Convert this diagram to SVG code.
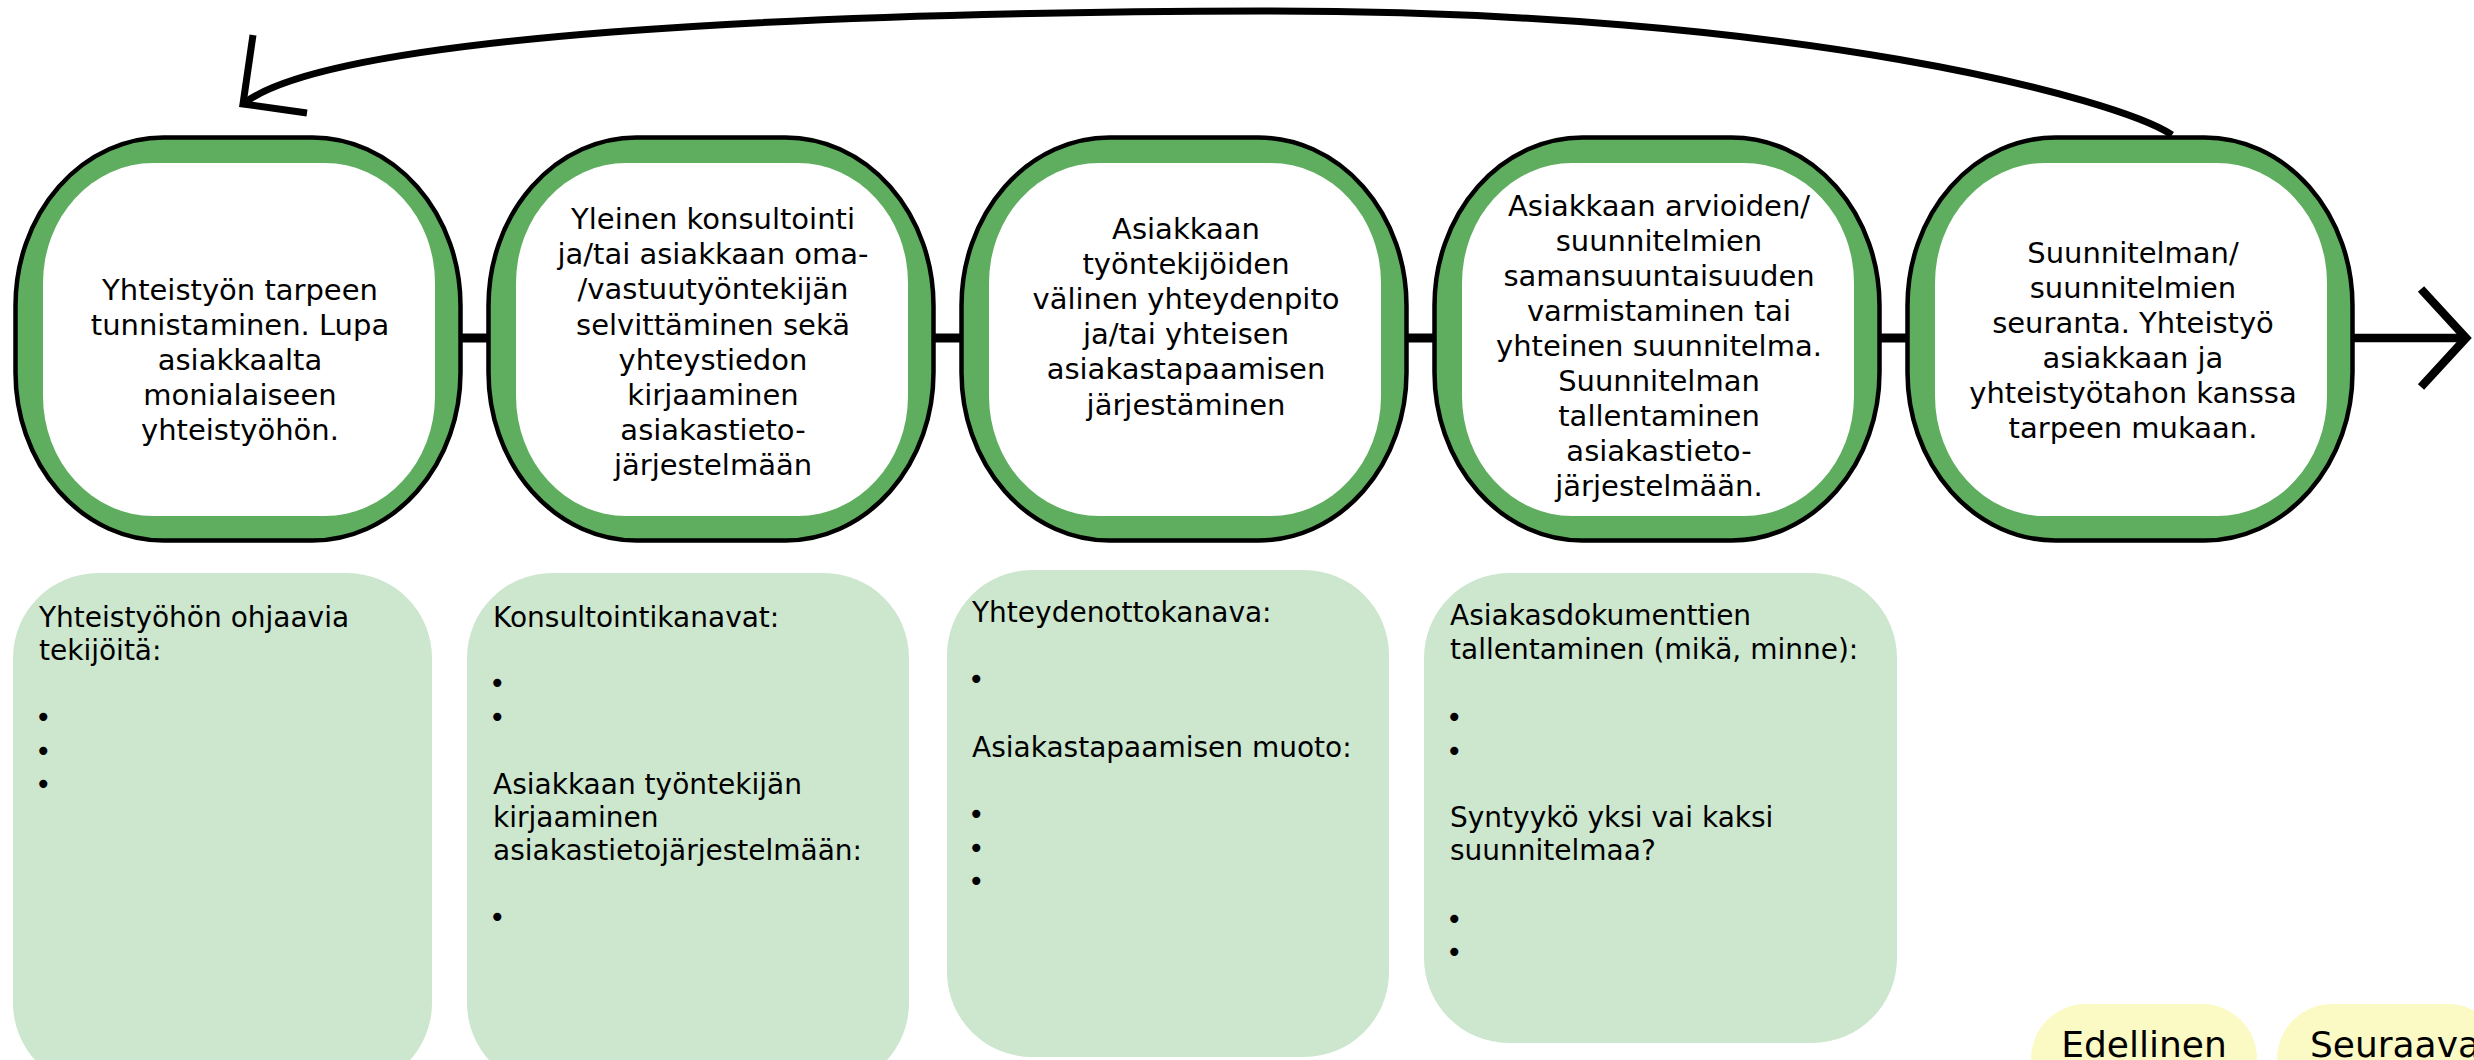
<svg xmlns="http://www.w3.org/2000/svg" width="2474" height="1060" viewBox="0 0 2474 1060">
<defs>
<path id="outer" d="M 150.5 2.5 H 299.5 A 148 168 0 0 1 447.5 170.5 V 237.5 A 148 168 0 0 1 299.5 405.5 H 150.5 A 148 168 0 0 1 2.5 237.5 V 170.5 A 148 168 0 0 1 150.5 2.5 Z"/>
<path id="inner" d="M 140 28 H 312 A 110 120 0 0 1 422 148 V 261 A 110 120 0 0 1 312 381 H 140 A 110 120 0 0 1 30 261 V 148 A 110 120 0 0 1 140 28 Z"/>
</defs>
<style>
.ring{fill:#5fad5f;stroke:#000;stroke-width:4.5}
.core{fill:#fff}
.t{font-family:"DejaVu Sans",Verdana,sans-serif;font-size:29px;fill:#000;text-anchor:middle}
.s{font-family:"DejaVu Sans",Verdana,sans-serif;font-size:28px;fill:#000}
.box{fill:#cde6ce}
.btn{fill:#fcfac4}
.bt{font-family:"DejaVu Sans",Verdana,sans-serif;font-size:36px;fill:#000;text-anchor:middle}
.ln{fill:none;stroke:#000;stroke-linejoin:miter;stroke-linecap:butt}
</style>
<rect width="2474" height="1060" fill="#fff"/>
<g id="connectors">
<path class="ln" stroke-width="7" d="M 2172 135 C 2120 100, 1800 10, 1262 11 C 800 12, 330 35, 243 104"/>
<polyline class="ln" stroke-width="7" points="253,35 243,104 307,113"/>
<line class="ln" stroke-width="9" x1="460" y1="338" x2="488" y2="338"/>
<line class="ln" stroke-width="9" x1="933" y1="338" x2="961" y2="338"/>
<line class="ln" stroke-width="9" x1="1406" y1="338" x2="1434" y2="338"/>
<line class="ln" stroke-width="9" x1="1879" y1="338" x2="1907" y2="338"/>
<line class="ln" stroke-width="8.5" x1="2352" y1="338" x2="2466" y2="338"/>
<polyline class="ln" stroke-width="8.5" points="2421,289 2466,338 2421,387"/>
</g>
<g id="node1" transform="translate(13,135)">
<use href="#outer" class="ring"/><use href="#inner" class="core"/>
<text class="t" x="227" y="165"><tspan x="227">Yhteistyön tarpeen</tspan><tspan x="227" dy="35.1">tunnistaminen. Lupa</tspan><tspan x="227" dy="35.1">asiakkaalta</tspan><tspan x="227" dy="35.1">monialaiseen</tspan><tspan x="227" dy="35.1">yhteistyöhön.</tspan></text>
</g>
<g id="node2" transform="translate(486,135)">
<use href="#outer" class="ring"/><use href="#inner" class="core"/>
<text class="t" x="227" y="94"><tspan x="227">Yleinen konsultointi</tspan><tspan x="227" dy="35.2">ja/tai asiakkaan oma-</tspan><tspan x="227" dy="35.2">/vastuutyöntekijän</tspan><tspan x="227" dy="35.2">selvittäminen sekä</tspan><tspan x="227" dy="35.2">yhteystiedon</tspan><tspan x="227" dy="35.2">kirjaaminen</tspan><tspan x="227" dy="35.2">asiakastieto-</tspan><tspan x="227" dy="35.2">järjestelmään</tspan></text>
</g>
<g id="node3" transform="translate(959,135)">
<use href="#outer" class="ring"/><use href="#inner" class="core"/>
<text class="t" x="227" y="104"><tspan x="227">Asiakkaan</tspan><tspan x="227" dy="35.1">työntekijöiden</tspan><tspan x="227" dy="35.1">välinen yhteydenpito</tspan><tspan x="227" dy="35.1">ja/tai yhteisen</tspan><tspan x="227" dy="35.1">asiakastapaamisen</tspan><tspan x="227" dy="35.1">järjestäminen</tspan></text>
</g>
<g id="node4" transform="translate(1432,135)">
<use href="#outer" class="ring"/><use href="#inner" class="core"/>
<text class="t" x="227" y="81"><tspan x="227">Asiakkaan arvioiden/</tspan><tspan x="227" dy="35">suunnitelmien</tspan><tspan x="227" dy="35">samansuuntaisuuden</tspan><tspan x="227" dy="35">varmistaminen tai</tspan><tspan x="227" dy="35">yhteinen suunnitelma.</tspan><tspan x="227" dy="35">Suunnitelman</tspan><tspan x="227" dy="35">tallentaminen</tspan><tspan x="227" dy="35">asiakastieto-</tspan><tspan x="227" dy="35">järjestelmään.</tspan></text>
</g>
<g id="node5" transform="translate(1905,135)">
<use href="#outer" class="ring"/><use href="#inner" class="core"/>
<text class="t" x="228" y="127.5"><tspan x="228">Suunnitelman/</tspan><tspan x="228" dy="35.1">suunnitelmien</tspan><tspan x="228" dy="35.1">seuranta. Yhteistyö</tspan><tspan x="228" dy="35.1">asiakkaan ja</tspan><tspan x="228" dy="35.1">yhteistyötahon kanssa</tspan><tspan x="228" dy="35.1">tarpeen mukaan.</tspan></text>
</g>
<g id="box1">
<rect class="box" x="13" y="573" width="419" height="515" rx="85" ry="85"/>
<text class="s" x="39" y="627">Yhteistyöhön ohjaavia</text>
<text class="s" x="39" y="659.5">tekijöitä:</text>
<text class="s" x="35" y="727">•</text>
<text class="s" x="35" y="761">•</text>
<text class="s" x="35" y="794">•</text>
</g>
<g id="box2">
<rect class="box" x="467" y="573" width="442" height="515" rx="85" ry="85"/>
<text class="s" x="493" y="627">Konsultointikanavat:</text>
<text class="s" x="489" y="693">•</text>
<text class="s" x="489" y="727">•</text>
<text class="s" x="493" y="793.5">Asiakkaan työntekijän</text>
<text class="s" x="493" y="826.5">kirjaaminen</text>
<text class="s" x="493" y="860">asiakastietojärjestelmään:</text>
<text class="s" x="489" y="927">•</text>
</g>
<g id="box3">
<rect class="box" x="947" y="570" width="442" height="487" rx="85" ry="85"/>
<text class="s" x="972" y="622">Yhteydenottokanava:</text>
<text class="s" x="968" y="689">•</text>
<text class="s" x="972" y="757">Asiakastapaamisen muoto:</text>
<text class="s" x="968" y="824">•</text>
<text class="s" x="968" y="858">•</text>
<text class="s" x="968" y="891">•</text>
</g>
<g id="box4">
<rect class="box" x="1424" y="573" width="473" height="470" rx="85" ry="85"/>
<text class="s" x="1450" y="625">Asiakasdokumenttien</text>
<text class="s" x="1450" y="659">tallentaminen (mikä, minne):</text>
<text class="s" x="1446" y="727">•</text>
<text class="s" x="1446" y="761">•</text>
<text class="s" x="1450" y="827">Syntyykö yksi vai kaksi</text>
<text class="s" x="1450" y="859.5">suunnitelmaa?</text>
<text class="s" x="1446" y="929">•</text>
<text class="s" x="1446" y="962">•</text>
</g>
<g id="btn-prev">
<rect class="btn" x="2031" y="1004" width="226" height="120" rx="55" ry="55"/>
<text class="bt" x="2144" y="1057">Edellinen</text>
</g>
<g id="btn-next">
<rect class="btn" x="2277" y="1004" width="226" height="120" rx="55" ry="55"/>
<text class="bt" x="2395" y="1057">Seuraava</text>
</g>
</svg>
